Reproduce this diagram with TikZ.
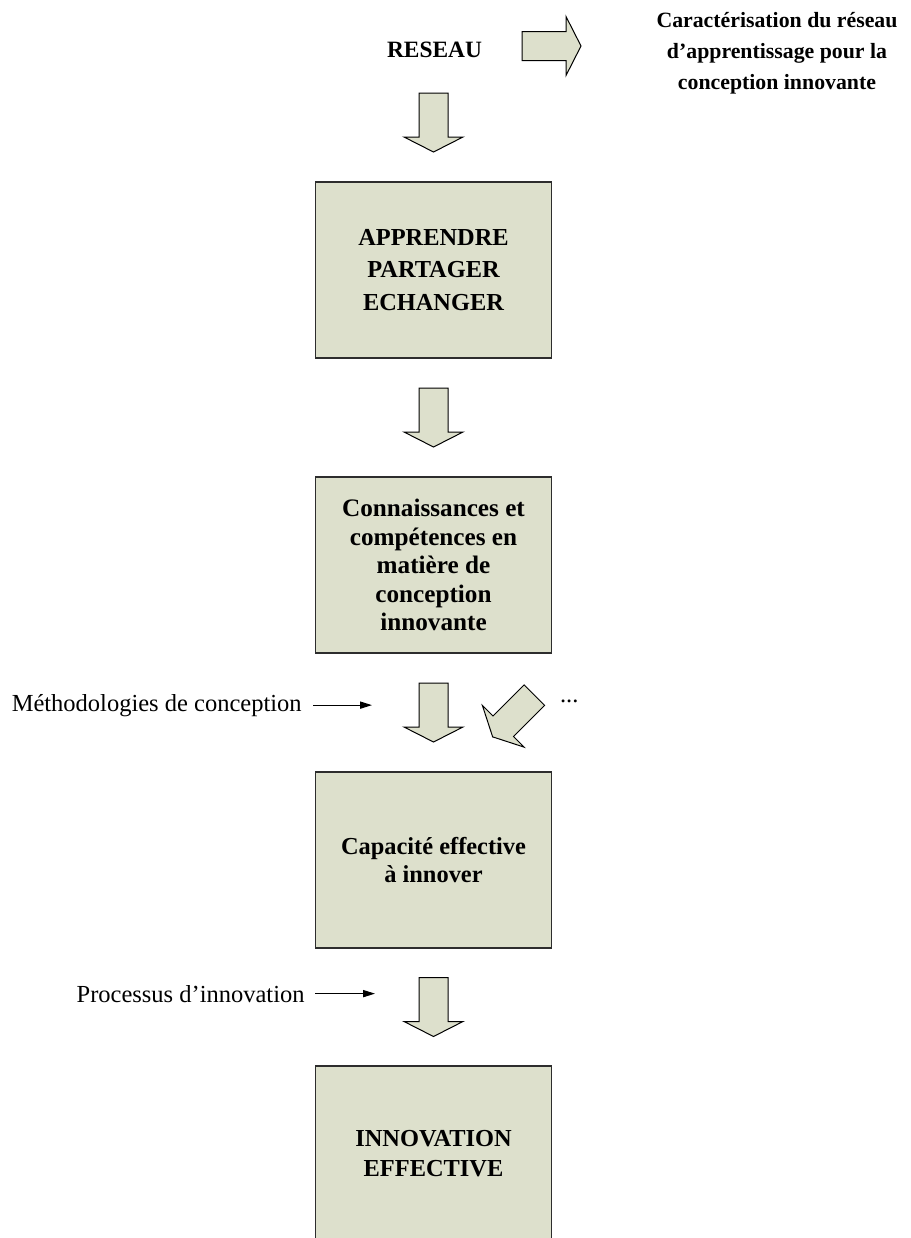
\documentclass[tikz,border=0pt]{standalone}
\usepackage{fontspec}
\setmainfont{Liberation Serif}
\usetikzlibrary{arrows.meta,calc}
\definecolor{boxfill}{RGB}{221,224,204}
\definecolor{boxline}{RGB}{45,45,45}
\begin{document}
\begin{tikzpicture}[x=0.5pt,y=-0.5pt,
  box/.style={draw=boxline, line width=0.7pt, fill=boxfill, minimum width=117.75pt,
    minimum height=88pt, inner sep=0pt, align=center,
    font=\bfseries\fontsize{12.2}{14.2}\selectfont},
  lbl/.style={inner sep=0pt, font=\fontsize{12.25}{14}\selectfont},
  thinarrow/.style={-{Triangle[length=6pt,width=3.6pt]}, line width=0.55pt},
  blockarrow/.pic={\draw[draw=black, line width=0.5pt, fill=boxfill, line join=miter]
    (-14.5,-29.5) -- (14.5,-29.5) -- (14.5,14.5) -- (29.5,14.5) -- (0,29.5)
    -- (-29.5,14.5) -- (-14.5,14.5) -- cycle;}
]
\useasboundingbox (0,0) rectangle (911,1238);
\clip (0,0) rectangle (911,1238);

% top texts
\node[inner sep=0pt, font=\bfseries\fontsize{11.7}{14}\selectfont] (reseau) at (434.5,49.5) {RESEAU};
\node[inner sep=0pt, align=center, font=\bfseries\fontsize{10.9}{15.6}\selectfont] (carac) at (777,53.5)
  {Caractérisation du réseau\\d’apprentissage pour la\\conception innovante};

% boxes
\node[box, font=\bfseries\fontsize{12.2}{16.2}\selectfont] (b1) at (433.5,270) {APPRENDRE\\PARTAGER\\ECHANGER};
\node[box, font=\bfseries\fontsize{12.6}{14.2}\selectfont] (b2) at (433.5,565) {Connaissances et\\compétences en\\matière de\\conception\\innovante};
\node[box] (b3) at (433.5,860) {Capacité effective\\à innover};
\node[box, font=\bfseries\fontsize{12.2}{15}\selectfont] (b4) at (433.5,1154) {INNOVATION\\EFFECTIVE};

% block arrows
\pic[rotate=90] at (551.5,46) {blockarrow};
\pic at (433.5,122.5) {blockarrow};
\pic at ($(b1.south)!0.5!(b2.north)$) {blockarrow};
\pic at ($(b2.south)!0.5!(b3.north)$) {blockarrow};
\pic[rotate=-45] at (513.5,716) {blockarrow};
\pic at ($(b3.south)!0.5!(b4.north)$) {blockarrow};

% side labels
\node[lbl, anchor=base east] (meth) at (302,711) {Méthodologies de conception};
\coordinate (methtip) at ([xshift=35pt]meth.east);
\draw[thinarrow] ([xshift=5.5pt]meth.east) -- (methtip);

\node[lbl, anchor=base east] (proc) at (305,1002) {Processus d’innovation};
\coordinate (proctip) at ([xshift=35pt]proc.east);
\draw[thinarrow] ([xshift=5pt]proc.east) -- (proctip);

\node[lbl, anchor=base] (dots) at (569.3,702) {...};
\end{tikzpicture}
\end{document}
